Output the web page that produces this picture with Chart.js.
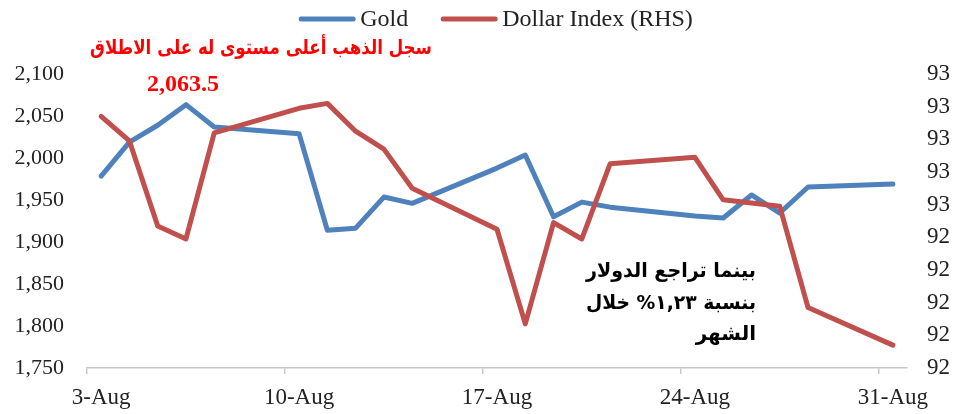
<!DOCTYPE html>
<html>
<head>
<meta charset="utf-8">
<script src="https://cdn.jsdelivr.net/npm/chart.js@4/dist/chart.umd.min.js"></script>
<style>
  html, body { margin: 0; padding: 0; background: #fff; }
  #wrap { width: 953px; height: 414px; position: relative; }
</style>
</head>
<body>
<div id="wrap"><canvas id="goldChart"></canvas></div>
<script>
// trading days in August (weekends left empty, lines joined across them)
const categories = [
  '3-Aug', '4-Aug', '5-Aug', '6-Aug', '7-Aug', '8-Aug', '9-Aug',
  '10-Aug', '11-Aug', '12-Aug', '13-Aug', '14-Aug', '15-Aug', '16-Aug',
  '17-Aug', '18-Aug', '19-Aug', '20-Aug', '21-Aug', '22-Aug', '23-Aug',
  '24-Aug', '25-Aug', '26-Aug', '27-Aug', '28-Aug', '29-Aug', '30-Aug',
  '31-Aug'
];
const goldValues = [
  1978.5, 2019, 2039, 2063.5, 2037, null, null,
  2029, 1914, 1916.5, 1953.5, 1946, null, null,
  1988, 2003.5, 1930, 1947.5, 1941.5, null, null,
  1931, 1928.5, 1956, 1934.5, 1965.5, null, null,
  1969
];
const dollarValues = [
  93.14, 92.99, 92.47, 92.39, 93.04, null, null,
  93.19, 93.22, 93.05, 92.94, 92.70, null, null,
  92.45, 91.87, 92.49, 92.39, 92.85, null, null,
  92.89, 92.63, 92.61, 92.59, 91.97, null, null,
  91.74
];
const seriesNames = ['Gold', 'Dollar Index (RHS)'];
const goldAxis = { min: 1750, max: 2100, step: 50 };
const dollarAxis = { min: 91.6, max: 93.4, step: 0.2 };
const labelEvery = 7;

const recordNote = 'سجل الذهب أعلى مستوى له على الاطلاق';
const recordValue = '2,063.5';
const dollarNote = ['بينما تراجع الدولار', 'بنسبة ١,٢٣% خلال', 'الشهر'];

const BLUE = '#4f81bd';
const RED = '#c0504d';
const SERIF = '"Liberation Serif", "Times New Roman", serif';
const ARABIC = '"DejaVu Sans", sans-serif';

// right-aligned rtl text squeezed horizontally to a given width
const fitText = (ctx, text, right, y, maxW) => {
  const w = ctx.measureText(text).width;
  const k = Math.min(1, maxW / w);
  ctx.save();
  ctx.translate(right, y);
  ctx.scale(k, 1);
  ctx.fillText(text, 0, 0);
  ctx.restore();
};

const overlay = {
  id: 'overlay',
  afterDraw(chart) {
    const ctx = chart.ctx;
    ctx.save();

    // legend (drawn by hand so it can sit well above the plot)
    ctx.font = '24px ' + SERIF;
    ctx.textBaseline = 'middle';
    const lineW = 56, gap = 5, itemGap = 33;
    const items = chart.data.datasets.map(ds => ({
      text: ds.label, color: ds.borderColor, w: ctx.measureText(ds.label).width
    }));
    let total = items.reduce((s, it) => s + lineW + gap + it.w, 0) + itemGap * (items.length - 1);
    let x = 496 - total / 2;
    items.forEach(it => {
      ctx.strokeStyle = it.color;
      ctx.lineWidth = 5;
      ctx.lineCap = 'round';
      ctx.beginPath();
      ctx.moveTo(x + 2, 19);
      ctx.lineTo(x + lineW - 2, 19);
      ctx.stroke();
      ctx.fillStyle = '#222';
      ctx.textAlign = 'left';
      ctx.fillText(it.text, x + lineW + gap, 20);
      x += lineW + gap + it.w + itemGap;
    });

    // red note about the record high
    ctx.direction = 'rtl';
    ctx.textAlign = 'right';
    ctx.fillStyle = '#ff0000';
    ctx.font = 'bold 20px ' + ARABIC;
    fitText(ctx, recordNote, 432, 49, 342);

    ctx.direction = 'ltr';
    ctx.textAlign = 'center';
    ctx.font = 'bold 24px ' + SERIF;
    ctx.fillText(recordValue, 183, 85);

    // black note about the dollar
    ctx.direction = 'rtl';
    ctx.textAlign = 'right';
    ctx.fillStyle = '#000';
    ctx.font = 'bold 20px ' + ARABIC;
    dollarNote.forEach((line, i) => fitText(ctx, line, 756, 272 + i * 31.5, 170));

    ctx.restore();
  }
};

new Chart(document.getElementById('goldChart'), {
  type: 'line',
  data: {
    labels: categories,
    datasets: [
      {
        label: seriesNames[0],
        data: goldValues,
        yAxisID: 'yGold',
        borderColor: BLUE,
        backgroundColor: BLUE,
        borderWidth: 5,
        borderCapStyle: 'round',
        borderJoinStyle: 'round',
        pointRadius: 0,
        tension: 0,
        spanGaps: true,
        order: 1
      },
      {
        label: seriesNames[1],
        data: dollarValues,
        yAxisID: 'yDollar',
        borderColor: RED,
        backgroundColor: RED,
        borderWidth: 5,
        borderCapStyle: 'round',
        borderJoinStyle: 'round',
        pointRadius: 0,
        tension: 0,
        spanGaps: true,
        order: 0
      }
    ]
  },
  options: {
    responsive: true,
    maintainAspectRatio: false,
    animation: false,
    layout: { padding: { top: 74, left: 0, right: 0, bottom: 0 } },
    plugins: {
      legend: { display: false },
      tooltip: { enabled: false }
    },
    scales: {
      x: {
        offset: true,
        grid: {
          offset: true,
          drawOnChartArea: false,
          drawTicks: true,
          tickLength: 6,
          lineWidth: 1.5,
          color: c => (c.index % labelEvery === 0 ? '#c8c8c8' : 'rgba(0,0,0,0)')
        },
        border: { display: true, color: '#c8c8c8', width: 1.5 },
        ticks: {
          autoSkip: false,
          maxRotation: 0,
          padding: 10,
          color: '#222',
          font: { family: SERIF, size: 23 },
          callback: function (val, i) {
            return i % labelEvery === 0 ? this.getLabelForValue(val) : '';
          }
        },
        afterFit: s => { s.height = 46; }
      },
      yGold: {
        position: 'left',
        min: goldAxis.min,
        max: goldAxis.max,
        grid: { display: false, drawTicks: false },
        border: { display: false },
        ticks: {
          stepSize: goldAxis.step,
          padding: 23,
          color: '#222',
          font: { family: SERIF, size: 22 },
          callback: v => v.toLocaleString('en-US')
        },
        afterFit: s => { s.width = 87; }
      },
      yDollar: {
        position: 'right',
        min: dollarAxis.min,
        max: dollarAxis.max,
        grid: { display: false, drawTicks: false },
        border: { display: false },
        ticks: {
          stepSize: dollarAxis.step,
          padding: 20,
          color: '#222',
          font: { family: SERIF, size: 23 },
          callback: v => Number(v).toFixed(0)
        },
        afterFit: s => { s.width = 46; }
      }
    }
  },
  plugins: [overlay]
});
</script>
</body>
</html>
